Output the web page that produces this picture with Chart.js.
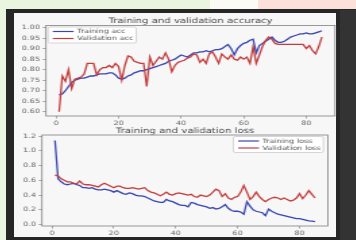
<!DOCTYPE html>
<html lang="en">
<head>
<meta charset="UTF-8">
<title>Training and validation</title>
<script src="https://cdn.jsdelivr.net/npm/chart.js"></script>
<style>
  body { margin: 0; width: 356px; height: 240px; overflow: hidden; position: relative; background: #e9f5df; }
  .blk { position: absolute; }
  #fig { position: absolute; left: 14px; top: 13px; width: 240px; height: 227px;
         transform: scaleX(1.35); transform-origin: 0 0; filter: blur(0.55px); }
  #fig canvas { position: absolute; left: 0; }
</style>
</head>
<body>
<div class="blk" style="left:210px;top:0;width:48px;height:10px;background:#fbfbf6"></div>
<div class="blk" style="left:258px;top:0;width:98px;height:10px;background:#fce1da"></div>
<div class="blk" style="left:6px;top:9px;width:350px;height:231px;background:#262626"></div>
<div class="blk" style="left:340px;top:10px;width:16px;height:230px;background:#333333"></div>
<div class="blk" style="left:14px;top:13px;width:322px;height:224px;background:#f7f7f7;filter:blur(0.5px)"></div>
<div id="fig">
  <canvas id="accChart" width="240" height="113" style="top:0"></canvas>
  <canvas id="lossChart" width="240" height="116" style="top:111px"></canvas>
</div>
<script>
// values, one per epoch
const trainAcc = [0.68, 0.685, 0.70, 0.72, 0.74, 0.75, 0.755, 0.76, 0.76, 0.765,
  0.77, 0.77, 0.775, 0.78, 0.78, 0.78, 0.785, 0.785, 0.775, 0.76,
  0.755, 0.76, 0.77, 0.775, 0.785, 0.79, 0.795, 0.795, 0.80, 0.805,
  0.81, 0.815, 0.82, 0.825, 0.83, 0.84, 0.845, 0.85, 0.86, 0.87,
  0.865, 0.86, 0.87, 0.88, 0.88, 0.885, 0.885, 0.89, 0.885, 0.89,
  0.895, 0.895, 0.90, 0.91, 0.92, 0.90, 0.87, 0.90, 0.915, 0.925,
  0.93, 0.94, 0.945, 0.88, 0.915, 0.925, 0.935, 0.945, 0.955, 0.94,
  0.93, 0.93, 0.935, 0.945, 0.955, 0.96, 0.965, 0.97, 0.97, 0.975,
  0.97, 0.97, 0.975, 0.98, 0.985];
const valAcc = [0.60, 0.77, 0.745, 0.80, 0.71, 0.755, 0.76, 0.765, 0.78, 0.83,
  0.83, 0.83, 0.775, 0.80, 0.81, 0.81, 0.82, 0.81, 0.83, 0.815,
  0.75, 0.82, 0.865, 0.86, 0.84, 0.835, 0.83, 0.83, 0.72, 0.86,
  0.82, 0.84, 0.86, 0.85, 0.88, 0.85, 0.79, 0.82, 0.835, 0.84,
  0.845, 0.855, 0.86, 0.875, 0.87, 0.835, 0.85, 0.83, 0.875, 0.885,
  0.86, 0.83, 0.875, 0.86, 0.85, 0.87, 0.85, 0.845, 0.86, 0.85,
  0.86, 0.83, 0.91, 0.83, 0.87, 0.91, 0.94, 0.955, 0.945, 0.925,
  0.92, 0.92, 0.92, 0.92, 0.92, 0.92, 0.92, 0.92, 0.92, 0.90,
  0.915, 0.89, 0.875, 0.91, 0.955];
const trainLoss = [1.14, 0.62, 0.58, 0.55, 0.54, 0.55, 0.56, 0.54, 0.53, 0.50,
  0.50, 0.49, 0.50, 0.48, 0.47, 0.47, 0.48, 0.47, 0.46, 0.44,
  0.46, 0.44, 0.42, 0.41, 0.43, 0.42, 0.40, 0.39, 0.39, 0.38,
  0.36, 0.34, 0.32, 0.31, 0.30, 0.30, 0.34, 0.32, 0.31, 0.29,
  0.27, 0.26, 0.26, 0.24, 0.30, 0.29, 0.27, 0.26, 0.25, 0.24,
  0.22, 0.23, 0.21, 0.22, 0.24, 0.27, 0.22, 0.19, 0.18, 0.18,
  0.17, 0.14, 0.31, 0.25, 0.20, 0.18, 0.17, 0.16, 0.12, 0.21,
  0.18, 0.16, 0.14, 0.13, 0.12, 0.11, 0.10, 0.09, 0.08, 0.08,
  0.07, 0.06, 0.05, 0.045, 0.04];
const valLoss = [0.67, 0.66, 0.62, 0.60, 0.58, 0.58, 0.56, 0.55, 0.59, 0.55,
  0.54, 0.54, 0.53, 0.52, 0.51, 0.54, 0.56, 0.54, 0.52, 0.50,
  0.52, 0.52, 0.50, 0.49, 0.49, 0.50, 0.49, 0.48, 0.49, 0.50,
  0.46, 0.44, 0.43, 0.41, 0.39, 0.41, 0.44, 0.41, 0.40, 0.42,
  0.43, 0.42, 0.41, 0.40, 0.41, 0.38, 0.37, 0.40, 0.39, 0.38,
  0.40, 0.44, 0.48, 0.46, 0.38, 0.42, 0.36, 0.34, 0.37, 0.38,
  0.44, 0.53, 0.44, 0.34, 0.38, 0.44, 0.38, 0.34, 0.31, 0.34,
  0.36, 0.37, 0.36, 0.34, 0.36, 0.34, 0.32, 0.33, 0.36, 0.42,
  0.35, 0.40, 0.46, 0.41, 0.36];
const epochs = trainAcc.map((_, i) => i + 1);

const xTicks = [0, 20, 40, 60, 80];
const accTicks = [0.60, 0.65, 0.70, 0.75, 0.80, 0.85, 0.90, 0.95, 1.00];
const lossTicks = [0.0, 0.2, 0.4, 0.6, 0.8, 1.0, 1.2];

const FONT = "'DejaVu Sans', sans-serif";
const BLUE = '#3846b0';
const RED = '#c43c3c';

// matplotlib style box around the axes
const frame = {
  id: 'frame',
  afterDatasetsDraw(chart) {
    const a = chart.chartArea, ctx = chart.ctx;
    ctx.save();
    ctx.strokeStyle = '#808080';
    ctx.lineWidth = 0.8;
    ctx.strokeRect(a.left, a.top, a.right - a.left, a.bottom - a.top);
    ctx.restore();
  }
};

// legend drawn inside the plot, like plt.legend()
const boxLegend = {
  id: 'boxLegend',
  afterDraw(chart, args, opts) {
    const {ctx, chartArea: a} = chart;
    const sets = chart.data.datasets;
    ctx.save();
    ctx.font = '6px ' + FONT;
    const tw = Math.max(...sets.map(d => ctx.measureText(d.label).width));
    const w = 21.5 + tw + 2, h = 16;
    const x = opts.side === 'left' ? a.left + 1.5 : a.right - 3.5 - w;
    const y = a.top + 1.5;
    ctx.fillStyle = 'rgba(255,255,255,0.9)';
    ctx.strokeStyle = '#c4c4c4';
    ctx.lineWidth = 0.7;
    ctx.beginPath();
    ctx.roundRect(x, y, w, h, 1.5);
    ctx.fill();
    ctx.stroke();
    sets.forEach((d, i) => {
      const ry = y + 4.5 + i * 7;
      ctx.strokeStyle = d.borderColor;
      ctx.lineWidth = 1.2;
      ctx.beginPath();
      ctx.moveTo(x + 3.5, ry);
      ctx.lineTo(x + 19, ry);
      ctx.stroke();
      ctx.fillStyle = '#555';
      ctx.textBaseline = 'middle';
      ctx.fillText(d.label, x + 21.5, ry);
    });
    ctx.restore();
  }
};

function series(label, values, color, order) {
  return {
    label: label,
    data: epochs.map((e, i) => ({x: e, y: values[i]})),
    borderColor: color,
    borderWidth: 1.3,
    pointRadius: 0,
    tension: 0,
    order: order
  };
}

function makeScales(yMin, yMax, yTicks, digits, yWidth, xHeight) {
  const tickFont = {family: FONT, size: 6};
  return {
    x: {
      type: 'linear', min: -3.2, max: 89.2,
      afterBuildTicks: s => { s.ticks = xTicks.map(v => ({value: v})); },
      afterFit: s => { s.height = xHeight; },
      ticks: {font: tickFont, color: '#666', padding: 1.5, maxRotation: 0, autoSkip: false,
              callback: v => String(v)},
      grid: {drawOnChartArea: false, tickLength: 2.5, color: '#888', lineWidth: 0.7},
      border: {display: false}
    },
    y: {
      min: yMin, max: yMax,
      afterBuildTicks: s => { s.ticks = yTicks.map(v => ({value: v})); },
      afterFit: s => { s.width = yWidth; },
      ticks: {font: tickFont, color: '#666', padding: 2, autoSkip: false,
              callback: v => v.toFixed(digits)},
      grid: {drawOnChartArea: false, tickLength: 2.5, color: '#888', lineWidth: 0.7},
      border: {display: false}
    }
  };
}

function makeChart(id, title, sets, scales, pad, titlePad, side) {
  return new Chart(document.getElementById(id), {
    type: 'line',
    data: {datasets: sets},
    options: {
      responsive: false,
      animation: false,
      devicePixelRatio: 1,
      layout: {padding: pad},
      scales: scales,
      plugins: {
        legend: {display: false},
        tooltip: {enabled: false},
        title: {display: true, text: title, fullSize: false, color: '#4a4a4a',
                font: {family: FONT, size: 7.5, weight: 'normal', lineHeight: 1},
                padding: titlePad},
        boxLegend: {side: side}
      }
    },
    plugins: [frame, boxLegend]
  });
}

makeChart('accChart', 'Training and validation accuracy',
  [series('Training acc', trainAcc, BLUE, 1), series('Validation acc', valAcc, RED, 0)],
  makeScales(0.58, 1.01, accTicks, 2, 23.7, 10),
  {left: 0, right: 2.2, top: 0, bottom: 0}, {top: 4, bottom: 1}, 'left');

makeChart('lossChart', 'Training and validation loss',
  [series('Training loss', trainLoss, BLUE, 1), series('Validation loss', valLoss, RED, 0)],
  makeScales(-0.02, 1.215, lossTicks, 1, 20.7, 14),
  {left: 0, right: 7.4, top: 0, bottom: 0}, {top: 3.5, bottom: 0}, 'right');
</script>
</body>
</html>
